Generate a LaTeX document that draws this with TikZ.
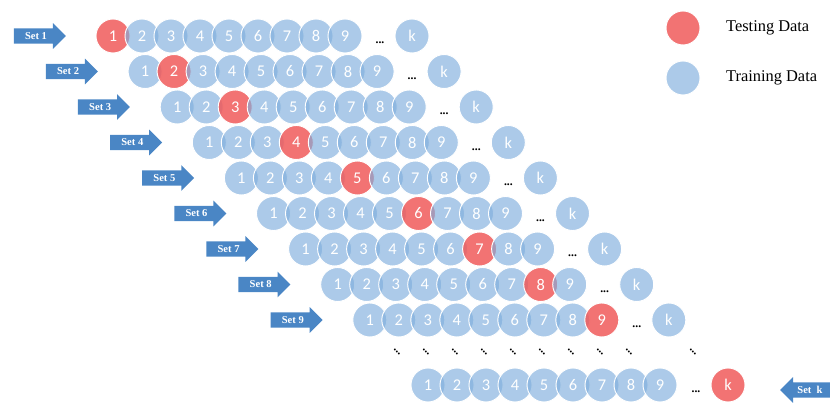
\documentclass[tikz,border=0pt]{standalone}
\usepackage{fontspec}
\setmainfont{Liberation Serif}
\newfontfamily\numfont{Carlito}
\usetikzlibrary{shapes.arrows}
\definecolor{testing}{HTML}{F05A5A}
\definecolor{training}{HTML}{7FAEDD}
\definecolor{setblue}{HTML}{4A86C5}

\tikzset{
  fold/.style={circle, minimum size=1.02cm, inner sep=0pt, draw=white,
    line width=0.8pt, text=white, text opacity=1,
    font=\numfont\fontsize{14}{14}\selectfont},
  trainfold/.style={fold, fill=training, fill opacity=0.65},
  testfold/.style={fold, fill=testing, fill opacity=0.85},
  setarrow/.style={single arrow, fill=setblue, draw=none,
    minimum height=1.56cm, text height=9pt, text depth=3.5pt,
    inner xsep=1pt, inner ysep=0pt,
    single arrow head extend=0.16cm, text=white,
    font=\bfseries\fontsize{9}{9}\selectfont},
  moredots/.style={font=\bfseries\fontsize{10}{10}\selectfont, inner sep=0pt},
  diagdots/.style={rotate=-45, inner sep=0pt,
    font=\bfseries\fontsize{10}{10}\selectfont},
  legendtext/.style={anchor=west, font=\fontsize{14}{14}\selectfont}
}

\begin{document}
\begin{tikzpicture}[x=0.03cm, y=-0.03cm]
  \useasboundingbox (0,0) rectangle (830,403);

  % Legend
  \node[testfold] (leg-test) at (683,28) {};
  \node[legendtext] (leg-test-txt) at (722,28) {Testing Data};
  \node[trainfold] (leg-train) at (683,78) {};
  \node[legendtext] (leg-train-txt) at (722,78) {Training Data};

  % Sets 1 to 9
  \foreach \row in {1,...,9} {
    \pgfmathsetmacro\xo{113+32.1*(\row-1)}
    \pgfmathsetmacro\yo{36+35.5*(\row-1)}
    \node[setarrow] (set-\row) at ({\xo-77},\yo) {Set \row};
    \foreach \col in {1,...,9} {
      \ifnum\col=\row \def\foldsty{testfold}\else\def\foldsty{trainfold}\fi
      \node[\foldsty] (c-\row-\col) at ({\xo+29*(\col-1)},\yo) {\col};
    }
    \node[moredots] (d-\row) at ({\xo+267},{\yo+7}) {...};
    \node[trainfold] (c-\row-k) at ({\xo+299},\yo) {k};
  }

  % Skipped sets
  \foreach \col in {1,...,9}
    \node[diagdots] (dd-\col) at ({397+29*(\col-1)},352) {...};
  \node[diagdots] (dd-k) at (693,352) {...};

  % Set k
  \foreach \col in {1,...,9}
    \node[trainfold] (c-k-\col) at ({428+29*(\col-1)},385) {\col};
  \node[moredots] (d-k) at (696,392) {...};
  \node[testfold] (c-k-k) at (728,385) {k};
  \node[setarrow, shape border rotate=180] (set-k) at (810,390) {Set~ k};
\end{tikzpicture}
\end{document}
